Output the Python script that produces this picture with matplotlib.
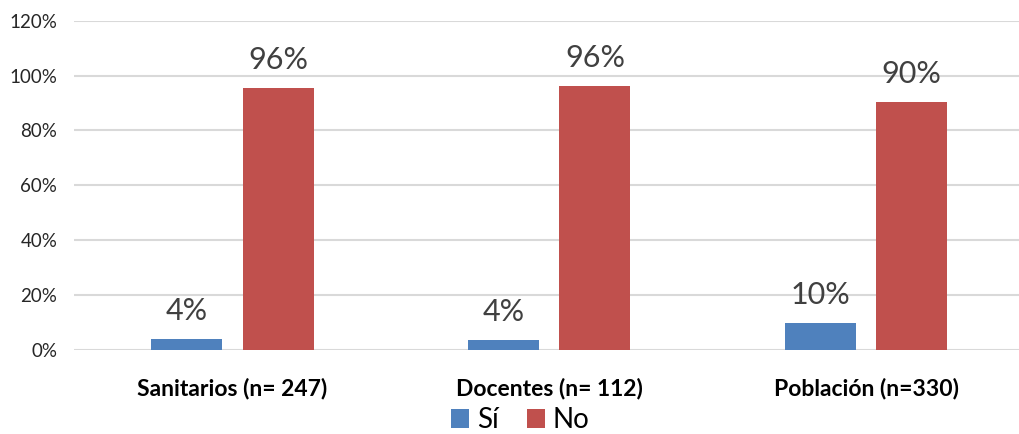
import matplotlib.pyplot as plt
import numpy as np

categories = ['Sanitarios (n= 247)', 'Docentes (n= 112)', 'Población (n=330)']
si = [4.0, 3.6, 9.6]
no = [95.6, 96.4, 90.4]
series_names = ['Sí', 'No']

plt.rcParams['font.family'] = ['Lato', 'DejaVu Sans']

fig = plt.figure(figsize=(10.2, 4.34), dpi=100)
ax = fig.add_axes([0.0725, 0.194, 0.932, 0.758])

x = np.arange(len(categories))
w = 0.224
off = 0.144
b1 = ax.bar(x - off, si, w, color='#4F81BD', label=series_names[0], zorder=3)
b2 = ax.bar(x + off, no, w, color='#C0504D', label=series_names[1], zorder=3)

for bars in (b1, b2):
    for r in bars:
        h = r.get_height()
        ax.annotate('{:.0f}%'.format(h), (r.get_x() + r.get_width() / 2, h),
                    xytext=(0, 19), textcoords='offset pixels',
                    ha='center', va='baseline', fontsize=22, color='#404040')

ax.set_xlim(-0.5, 2.5)
ax.set_ylim(0, 120)
ax.set_yticks(range(0, 121, 20))
ax.set_yticklabels(['{}%'.format(v) for v in range(0, 121, 20)], fontsize=13.5, color='#262626')
ax.set_xticks(x)
ax.set_xticklabels(categories, fontsize=16.5, fontweight='bold', color='black')
ax.tick_params(axis='both', length=0)
ax.tick_params(axis='x', pad=20)
ax.tick_params(axis='y', pad=12)
ax.grid(axis='y', color='#D9D9D9', linewidth=1.5, zorder=0)
ax.set_axisbelow(True)
for s in ax.spines.values():
    s.set_visible(False)

fig.legend(loc='center', bbox_to_anchor=(0.51, 0.032), ncol=2, frameon=False,
           fontsize=20, handlelength=0.65, handleheight=0.65, handletextpad=0.3,
           columnspacing=1.0)

plt.savefig('out.png')
plt.close()
